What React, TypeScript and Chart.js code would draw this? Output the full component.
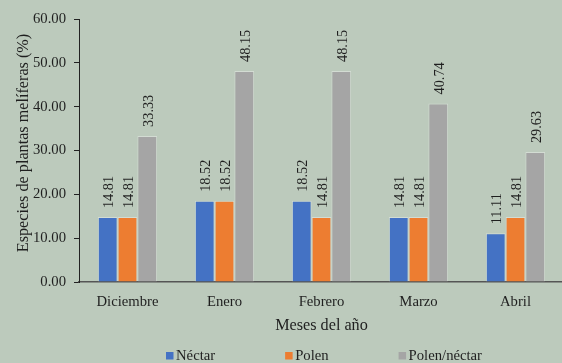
import React, { useEffect, useRef } from "react";
import { Chart, registerables } from "chart.js";

Chart.register(...registerables);

const months = ["Diciembre", "Enero", "Febrero", "Marzo", "Abril"];
const nectar = [14.81, 18.52, 18.52, 14.81, 11.11];
const polen = [14.81, 18.52, 14.81, 14.81, 14.81];
const polenNectar = [33.33, 48.15, 48.15, 40.74, 29.63];
const seriesNames = ["Néctar", "Polen", "Polen/néctar"];
const seriesColors = ["#4472C4", "#ED7D31", "#A5A5A5"];

const yTitle = "Especies de plantas melíferas (%)";
const xTitle = "Meses del año";

const SERIF = '"Liberation Serif", "Times New Roman", serif';
const TEXT = "#1f1f1f";
const BG = "rgb(188,202,188)";

// Paints the pale green background behind everything.
const backgroundPlugin = {
  id: "bg",
  beforeDraw(chart: any) {
    const { ctx, width, height } = chart;
    ctx.save();
    ctx.fillStyle = BG;
    ctx.fillRect(0, 0, width, height);
    ctx.restore();
  },
};

// Vertical value labels above each bar.
const valueLabelPlugin = {
  id: "valueLabels",
  afterDatasetsDraw(chart: any) {
    const { ctx } = chart;
    ctx.save();
    ctx.font = `14.3px ${SERIF}`;
    ctx.fillStyle = TEXT;
    ctx.textAlign = "left";
    ctx.textBaseline = "middle";
    chart.data.datasets.forEach((ds: any, i: number) => {
      const meta = chart.getDatasetMeta(i);
      meta.data.forEach((bar: any, j: number) => {
        const v = ds.data[j] as number;
        ctx.save();
        ctx.translate(bar.x + 2, bar.y - 9);
        ctx.rotate(-Math.PI / 2);
        ctx.fillText(v.toFixed(2), 0, 0);
        ctx.restore();
      });
    });
    ctx.restore();
  },
};

// Rotated y-axis title and the bottom legend.
const annotationPlugin = {
  id: "annotations",
  afterDraw(chart: any) {
    const { ctx } = chart;
    ctx.save();
    ctx.fillStyle = TEXT;
    ctx.font = `16.2px ${SERIF}`;
    ctx.textAlign = "center";
    ctx.textBaseline = "middle";
    ctx.save();
    ctx.translate(23.5, 143);
    ctx.rotate(-Math.PI / 2);
    ctx.fillText(yTitle, 0, 0);
    ctx.restore();

    ctx.font = `14.7px ${SERIF}`;
    ctx.textAlign = "left";
    let x = 166;
    const y = 356;
    chart.data.datasets.forEach((ds: any) => {
      ctx.fillStyle = ds.backgroundColor;
      ctx.fillRect(x, y - 4, 7.5, 7.5);
      ctx.fillStyle = TEXT;
      ctx.fillText(ds.label, x + 10, y);
      x += 10 + ctx.measureText(ds.label).width + 70;
    });
    ctx.restore();
  },
};

export default function App() {
  const ref = useRef<HTMLCanvasElement>(null);

  useEffect(() => {
    if (!ref.current) return;
    const chart = new Chart(ref.current, {
      type: "bar",
      data: {
        labels: months,
        datasets: [nectar, polen, polenNectar].map((d, i) => ({
          label: seriesNames[i],
          data: d,
          backgroundColor: seriesColors[i],
          borderColor: "rgba(255,255,255,0.35)",
          borderWidth: 1,
          categoryPercentage: 0.612,
          barPercentage: 1,
        })),
      },
      options: {
        responsive: false,
        animation: false,
        layout: { padding: { top: 19, bottom: 24, left: 0, right: 0 } },
        plugins: {
          legend: { display: false },
          tooltip: { enabled: false },
          title: { display: false },
        },
        scales: {
          x: {
            grid: { display: false },
            border: { display: true, color: "#555", width: 1.5 },
            ticks: {
              color: TEXT,
              padding: 3.5,
              font: { family: SERIF, size: 14.7 },
            },
            title: {
              display: true,
              text: xTitle,
              color: TEXT,
              font: { family: SERIF, size: 16.2 },
              padding: { top: 0, bottom: 3.5 },
            },
            afterFit(scale: any) {
              scale.height = 57;
            },
          },
          y: {
            min: 0,
            max: 60,
            grid: {
              display: true,
              drawOnChartArea: false,
              drawTicks: true,
              tickLength: 5,
              color: "#222",
            },
            border: { display: true, color: "#222", width: 1 },
            ticks: {
              stepSize: 10,
              color: TEXT,
              padding: 8,
              font: { family: SERIF, size: 14.7 },
              callback: (v: any) => Number(v).toFixed(2),
            },
            afterFit(scale: any) {
              scale.width = 79;
            },
          },
        },
      },
      plugins: [backgroundPlugin, valueLabelPlugin, annotationPlugin],
    });
    return () => chart.destroy();
  }, []);

  return (
    <div
      style={{
        position: "fixed",
        left: 0,
        top: 0,
        width: 562,
        height: 363,
        overflow: "hidden",
        background: BG,
      }}
    >
      <canvas ref={ref} width={564} height={363} style={{ display: "block" }} />
    </div>
  );
}
